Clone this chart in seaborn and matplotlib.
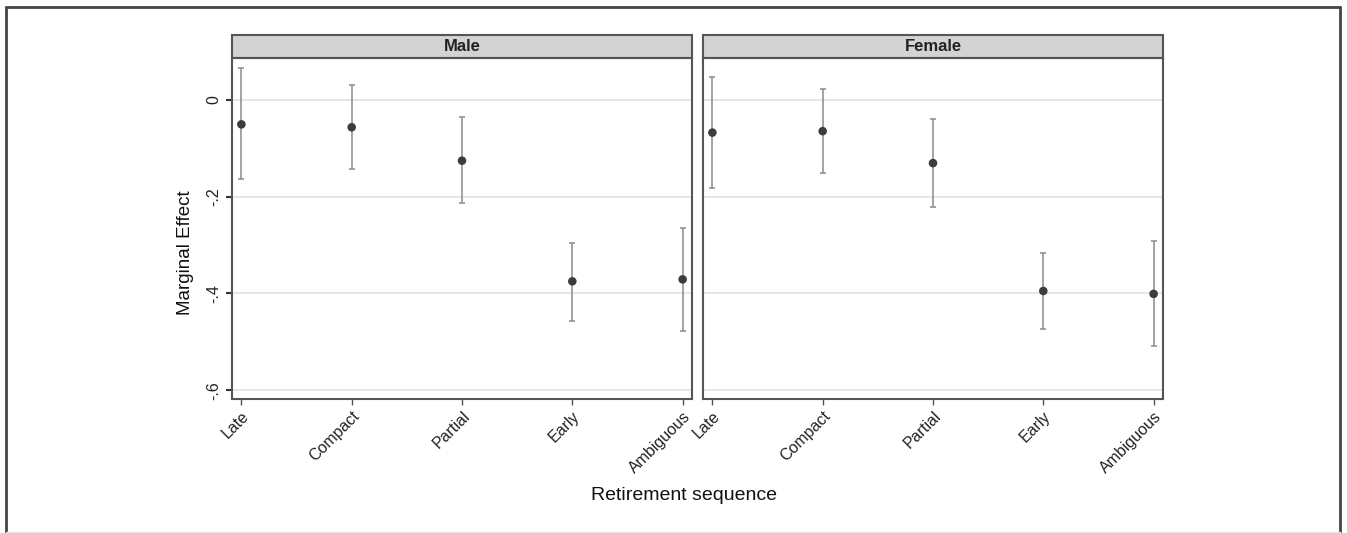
import numpy as np
import pandas as pd
import seaborn as sns
import matplotlib.pyplot as plt
from matplotlib.patches import Rectangle
from matplotlib.lines import Line2D

# values
sequences = ["Late", "Compact", "Partial", "Early", "Ambiguous"]
male_est = [-0.051, -0.057, -0.126, -0.375, -0.371]
male_lo = [-0.163, -0.143, -0.214, -0.456, -0.478]
male_hi = [0.066, 0.031, -0.035, -0.295, -0.265]
female_est = [-0.068, -0.065, -0.131, -0.395, -0.401]
female_lo = [-0.183, -0.152, -0.222, -0.473, -0.509]
female_hi = [0.046, 0.022, -0.040, -0.316, -0.291]
panels = ["Male", "Female"]
yticks = [0, -0.2, -0.4, -0.6]
ytick_labels = ["0", "-.2", "-.4", "-.6"]

df = pd.DataFrame({
    "sex": ["Male"] * 5 + ["Female"] * 5,
    "seq": sequences * 2,
    "est": male_est + female_est,
    "lo": male_lo + female_lo,
    "hi": male_hi + female_hi,
})
df["seq"] = pd.Categorical(df["seq"], categories=sequences)

sns.set_theme(style="white")
plt.rcParams["font.family"] = ["Liberation Sans", "DejaVu Sans"]


def draw_ci(data, **kws):
    ax = plt.gca()
    x = data["seq"].cat.codes.values
    ax.errorbar(x, data["est"], yerr=[data["est"] - data["lo"], data["hi"] - data["est"]],
                fmt="none", ecolor="#8a8a8a", elinewidth=1.1, capsize=2.5, capthick=1.1, zorder=3)
    sns.scatterplot(x=x, y=data["est"].values, ax=ax, color="#3c3c3c", s=38,
                    edgecolor="none", zorder=4)


g = sns.FacetGrid(df, col="sex", col_order=panels, sharey=True, sharex=True)
g.map_dataframe(draw_ci)
fig = g.figure
fig.set_size_inches(13.47, 5.33)
fig.set_dpi(100)

W, H = 1347, 533
lefts = [232, 703]
pw = 460
top, bot = 58, 399
for ax, left, name in zip(g.axes.flat, lefts, panels):
    ax.set_position([left / W, 1 - bot / H, pw / W, (bot - top) / H])
    ax.set_xlim(-0.085, 4.085)
    ax.set_ylim(-0.618, 0.086)
    ax.set_title("")
    ax.set_xlabel("")
    ax.set_ylabel("")
    ax.set_yticks(yticks)
    for yv in yticks:
        ax.axhline(yv, color="#e6e6e6", lw=1.4, zorder=1)
    ax.set_xticks(range(len(sequences)))
    ax.set_xticklabels(sequences, rotation=45, ha="right", rotation_mode="anchor",
                       fontsize=11.5, color="#222222")
    ax.tick_params(axis="x", bottom=True, length=4, width=1, color="#555555", pad=3)
    for s in ax.spines.values():
        s.set_color("#555555")
        s.set_linewidth(1.5)
        s.set_visible(True)
    # strip
    sh = 23 / (bot - top)
    ax.add_patch(Rectangle((0, 1), 1, sh, transform=ax.transAxes, facecolor="#d3d3d3",
                           edgecolor="#555555", lw=1.5, clip_on=False))
    ax.text(0.5, 1 + sh / 2, name, transform=ax.transAxes, ha="center", va="center",
            fontsize=12, fontweight="bold", color="#222222")

ax0, ax1 = g.axes.flat
ax0.set_yticklabels(ytick_labels, rotation=90, va="center", ha="right", fontsize=11.5, color="#222222")
ax0.tick_params(axis="y", left=True, length=4, width=1.5, color="#333333", pad=4)
ax1.tick_params(axis="y", left=False, labelleft=False)

fig.text(186 / W, 1 - 253 / H, "Marginal Effect", rotation=90, ha="center", va="center",
         fontsize=13.5, color="#111111")
fig.text(684 / W, 1 - 495 / H, "Retirement sequence", ha="center", va="center",
         fontsize=14, color="#111111")

# outer frame
fig.add_artist(Line2D([6 / W, 6 / W], [0, 1 - 7 / H], color="#444444", lw=2))
fig.add_artist(Line2D([6 / W, 1340 / W], [1 - 7 / H, 1 - 7 / H], color="#444444", lw=2))
fig.add_artist(Line2D([1340 / W, 1340 / W], [0, 1 - 7 / H], color="#444444", lw=2))
fig.add_artist(Line2D([6 / W, 1340 / W], [1 / H, 1 / H], color="#e4e4e4", lw=1))

fig.savefig("out.png", dpi=100)
